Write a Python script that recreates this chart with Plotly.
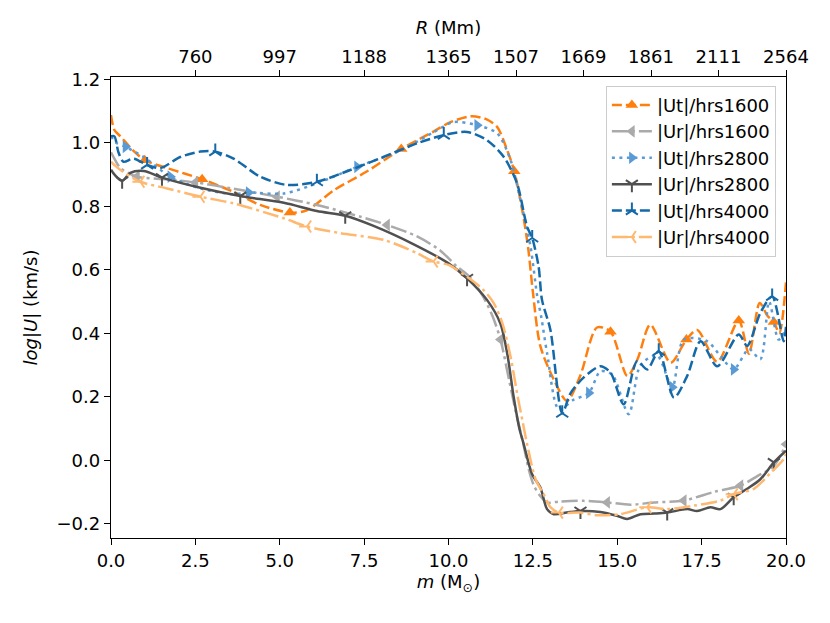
import plotly.graph_objects as go

# ---------------- data ----------------
ut1600_x = [0, 0.1, 0.28, 0.66, 1.0, 1.66, 2.7, 3.63, 4.42, 5.3, 5.8, 6.6, 7.59, 8.6, 9.57, 10.06, 10.65, 11.1, 11.44, 11.74, 11.95, 12.22, 12.37, 12.5, 12.72, 13.12, 13.51, 13.9, 14.4, 14.8, 15.3, 15.6, 15.98, 16.58, 17.05, 17.37, 17.96, 18.6, 18.9, 19.22, 19.45, 19.64, 19.8, 20]
ut1600_y = [1.087, 1.04, 1.02, 0.975, 0.945, 0.92, 0.885, 0.845, 0.804, 0.78, 0.787, 0.85, 0.91, 0.98, 1.036, 1.065, 1.083, 1.075, 1.05, 0.976, 0.91, 0.767, 0.66, 0.53, 0.36, 0.254, 0.187, 0.265, 0.418, 0.405, 0.265, 0.318, 0.427, 0.307, 0.38, 0.41, 0.31, 0.44, 0.335, 0.495, 0.455, 0.435, 0.40, 0.56]
ut1600_mk = [1.0, 2.7, 5.3, 8.6, 11.95, 14.8, 17.05, 18.6, 19.64]

ur1600_x = [0, 0.1, 0.28, 0.77, 1.66, 2.5, 3.63, 4.92, 6.1, 7.39, 8.18, 9.07, 9.76, 10.25, 10.6, 11.0, 11.3, 11.54, 11.8, 12.0, 12.2, 12.38, 12.53, 12.7, 12.92, 13.3, 14.0, 14.7, 15.39, 16.08, 16.97, 17.86, 18.65, 19.15, 19.64, 20]
ur1600_y = [0.97, 0.95, 0.92, 0.893, 0.885, 0.875, 0.855, 0.83, 0.804, 0.767, 0.741, 0.705, 0.66, 0.61, 0.58, 0.52, 0.455, 0.38, 0.25, 0.15, 0.06, -0.03, -0.08, -0.11, -0.133, -0.13, -0.128, -0.133, -0.14, -0.133, -0.127, -0.10, -0.08, -0.05, -0.018, 0.05]
ur1600_mk = [0.77, 2.5, 4.92, 8.18, 11.54, 14.7, 16.97, 18.65, 20]

ut2800_x = [0, 0.15, 0.43, 0.97, 1.76, 2.65, 3.63, 4.08, 5.12, 6.1, 7.29, 8.57, 9.57, 10.15, 10.85, 11.44, 11.84, 12.13, 12.43, 12.63, 12.75, 12.92, 13.27, 13.7, 14.16, 14.5, 14.85, 15.34, 15.69, 16.18, 16.63, 16.97, 17.66, 18.06, 18.45, 18.9, 19.24, 19.5, 19.78, 20]
ut2800_y = [1.02, 1.0, 0.987, 0.955, 0.893, 0.856, 0.838, 0.843, 0.84, 0.872, 0.924, 0.975, 1.034, 1.065, 1.055, 1.03, 0.945, 0.82, 0.673, 0.516, 0.45, 0.338, 0.16, 0.19, 0.212, 0.28, 0.27, 0.145, 0.30, 0.33, 0.23, 0.38, 0.375, 0.328, 0.286, 0.35, 0.318, 0.5, 0.38, 0.41]
ut2800_mk = [0.43, 1.76, 4.08, 7.29, 10.85, 14.16, 16.63, 18.45]

ur2800_x = [0, 0.1, 0.33, 0.57, 0.97, 1.51, 2.65, 3.83, 5.12, 6.1, 6.94, 7.78, 8.97, 10.0, 10.55, 11.14, 11.54, 11.75, 11.93, 12.1, 12.23, 12.48, 12.72, 12.92, 13.12, 13.5, 13.91, 14.5, 14.99, 15.29, 15.69, 16.1, 16.48, 17.07, 17.37, 17.76, 18.06, 18.45, 18.85, 19.24, 19.64, 20]
ur2800_y = [0.915, 0.9, 0.88, 0.905, 0.911, 0.89, 0.858, 0.832, 0.811, 0.785, 0.77, 0.738, 0.68, 0.62, 0.573, 0.505, 0.43, 0.33, 0.2, 0.1, 0.05, -0.045, -0.085, -0.154, -0.17, -0.165, -0.16, -0.163, -0.175, -0.185, -0.17, -0.168, -0.165, -0.154, -0.16, -0.148, -0.154, -0.117, -0.09, -0.06, -0.007, 0.03]
ur2800_mk = [0.33, 1.51, 3.83, 6.94, 10.55, 13.91, 16.48, 18.45, 19.64]

ut4000_x = [0, 0.1, 0.22, 0.37, 0.67, 1.07, 1.46, 2.05, 2.65, 3.09, 3.63, 4.42, 5.21, 6.1, 7.09, 8.07, 9.07, 9.86, 10.55, 11.14, 11.64, 12.03, 12.33, 12.48, 12.67, 12.77, 13.02, 13.37, 13.61, 14.0, 14.5, 14.8, 15.19, 15.59, 15.89, 16.23, 16.68, 17.07, 17.47, 17.96, 18.6, 18.85, 19.24, 19.59, 19.93, 20]
ut4000_y = [1.02, 1.02, 0.97, 0.94, 0.95, 0.93, 0.92, 0.955, 0.972, 0.972, 0.95, 0.893, 0.867, 0.877, 0.914, 0.955, 0.998, 1.024, 1.034, 1.008, 0.955, 0.872, 0.735, 0.70, 0.61, 0.505, 0.41, 0.148, 0.21, 0.26, 0.296, 0.276, 0.176, 0.312, 0.286, 0.343, 0.197, 0.265, 0.375, 0.296, 0.396, 0.36, 0.464, 0.516, 0.375, 0.42]
ut4000_mk = [1.07, 3.09, 6.1, 9.86, 12.48, 13.37, 16.23, 19.59]

ur4000_x = [0, 0.1, 0.28, 0.87, 1.66, 2.65, 3.63, 5.12, 5.81, 6.8, 8.08, 9.07, 9.56, 10.0, 10.55, 11.0, 11.34, 11.6, 11.85, 12.05, 12.2, 12.33, 12.58, 12.82, 13.02, 13.27, 13.91, 14.4, 15.09, 15.89, 16.48, 17.27, 18.06, 18.45, 19.05, 19.54, 19.93, 20]
ur4000_y = [0.94, 0.93, 0.914, 0.877, 0.856, 0.83, 0.809, 0.762, 0.736, 0.715, 0.694, 0.652, 0.626, 0.615, 0.578, 0.54, 0.495, 0.43, 0.32, 0.2, 0.12, 0.05, -0.06, -0.107, -0.148, -0.165, -0.165, -0.173, -0.17, -0.148, -0.154, -0.143, -0.127, -0.107, -0.09, -0.04, 0.003, 0.02]
ur4000_mk = [0.87, 2.65, 5.81, 9.56, 13.27, 15.89, 18.45]

top_tick_pos = [2.5, 5, 7.5, 10, 12, 14, 16, 18, 20]
top_tick_labels = ["760", "997", "1188", "1365", "1507", "1669", "1861", "2111", "2564"]

# ---------------- styling ----------------
LW = 2.5
series = [
    ("|Ut|/hrs1600", ut1600_x, ut1600_y, ut1600_mk, "#ff7f0e", "10px,4px", "triangle-up", False),
    ("|Ur|/hrs1600", ur1600_x, ur1600_y, ur1600_mk, "#aaaaaa", "16px,4px,3px,4px", "triangle-left", False),
    ("|Ut|/hrs2800", ut2800_x, ut2800_y, ut2800_mk, "#5b9bd5", "3px,4.5px", "triangle-right", False),
    ("|Ur|/hrs2800", ur2800_x, ur2800_y, ur2800_mk, "#505050", "solid", "y-down-open", True),
    ("|Ut|/hrs4000", ut4000_x, ut4000_y, ut4000_mk, "#1469a8", "10px,4px", "y-up-open", True),
    ("|Ur|/hrs4000", ur4000_x, ur4000_y, ur4000_mk, "#ffb870", "16px,4px,3px,4px", "y-left-open", True),
]

FONT = "DejaVu Sans, Verdana, sans-serif"
FS = 18

fig = go.Figure()
for i, (name, xs, ys, mk, col, dash, sym, is_open) in enumerate(series):
    fig.add_trace(go.Scatter(
        x=xs, y=ys, mode="lines", showlegend=False,
        line=dict(color=col, width=LW, dash=dash, shape="spline", smoothing=0.8),
        hoverinfo="skip"))
    idx = [min(range(len(xs)), key=lambda k: abs(xs[k] - m)) for m in mk]
    mx = [xs[k] for k in idx]
    my = [ys[k] for k in idx]
    if is_open:
        marker = dict(symbol=sym, size=10, color=col, line=dict(color=col, width=2))
    else:
        marker = dict(symbol=sym, size=11, color=col, line=dict(width=0))
    fig.add_trace(go.Scatter(x=mx, y=my, mode="markers", showlegend=False, marker=marker))
    fig.add_trace(go.Scatter(
        x=[None], y=[None], mode="lines+markers", name=name, legendgroup=name,
        line=dict(color=col, width=LW, dash=dash), marker=marker))

axis_common = dict(
    showline=True, linecolor="black", linewidth=1.3,
    ticks="outside", ticklen=6, tickwidth=1.3, tickcolor="black",
    showgrid=False, zeroline=False, automargin=False,
    tickfont=dict(family=FONT, size=FS, color="black"),
)

# the page body adds an 8px offset, so margins are shifted to compensate
fig.update_layout(
    width=830, height=623,
    margin=dict(l=103, r=52, t=69, b=93),
    paper_bgcolor="white", plot_bgcolor="white",
    font=dict(family=FONT, size=FS, color="black"),
    xaxis=dict(range=[0, 20], tickvals=[0, 2.5, 5, 7.5, 10, 12.5, 15, 17.5, 20],
               ticktext=["0.0", "2.5", "5.0", "7.5", "10.0", "12.5", "15.0", "17.5", "20.0"],
               title=dict(text="<i>m</i> (M<sub>⊙</sub>)", standoff=4,
                          font=dict(family=FONT, size=FS)),
               mirror=False, **axis_common),
    xaxis2=dict(range=[0, 20], overlaying="x", side="top", anchor="y",
                tickvals=top_tick_pos, ticktext=top_tick_labels,
                title=dict(text="<i>R</i> (Mm)", standoff=6, font=dict(family=FONT, size=FS)),
                **axis_common),
    yaxis=dict(range=[-0.245, 1.207], tickvals=[-0.2, 0, 0.2, 0.4, 0.6, 0.8, 1.0, 1.2],
               ticktext=["\u22120.2", "0.0", "0.2", "0.4", "0.6", "0.8", "1.0", "1.2"],
               title=dict(text="<i>log</i>|<i>U</i>| (km/s)", standoff=14,
                          font=dict(family=FONT, size=FS)),
               mirror=True, **axis_common),
    legend=dict(x=0.985, y=0.981, xanchor="right", yanchor="top",
                bgcolor="rgba(255,255,255,0.8)", bordercolor="#cccccc", borderwidth=1,
                font=dict(family=FONT, size=FS), itemwidth=40, tracegroupgap=7,
                traceorder="normal"),
)
# dummy trace to anchor top axis
fig.add_trace(go.Scatter(x=[0, 20], y=[None, None], xaxis="x2", mode="lines",
                         showlegend=False, hoverinfo="skip"))

fig.write_html("out.html")
